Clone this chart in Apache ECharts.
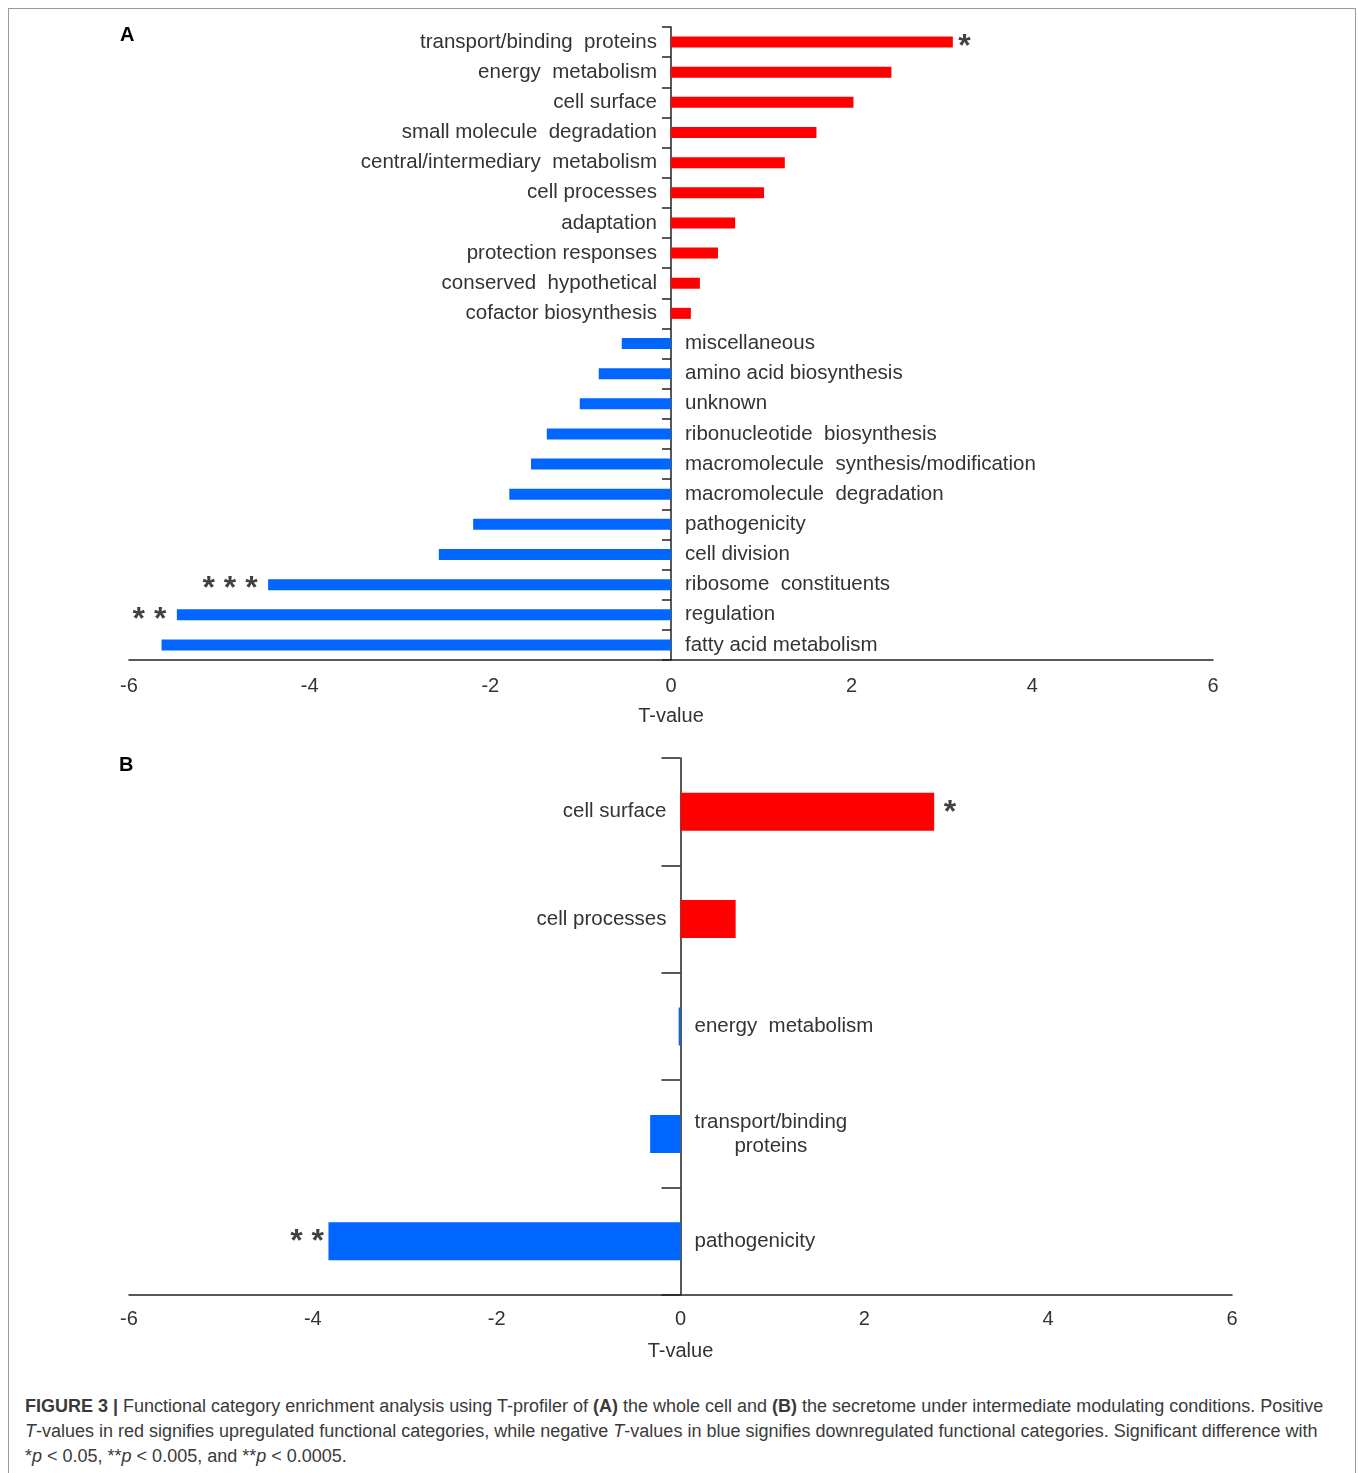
<!DOCTYPE html>
<html>
<head>
<meta charset="utf-8">
<script src="https://cdn.jsdelivr.net/npm/echarts@6/dist/echarts.min.js"></script>
<style>
  body { margin: 0; background: #fff; }
  #frame { position: absolute; left: 8px; top: 8px; width: 1348px; height: 1472px; border: 1px solid #9a9a9a; box-sizing: border-box; }
  #main { position: absolute; left: 0; top: 0; width: 1358px; height: 1390px; }
  #caption { position: absolute; left: 25px; top: 1394px; font: 18px 'Liberation Sans', Arial, sans-serif; line-height: 25px; color: #3a3a3a; white-space: nowrap; }
</style>
</head>
<body>
<div id="frame"></div>
<div id="main"></div>
<div id="caption"><b>FIGURE 3 |</b> Functional category enrichment analysis using T-profiler of <b>(A)</b> the whole cell and <b>(B)</b> the secretome under intermediate modulating conditions. Positive<br><i>T</i>-values in red signifies upregulated functional categories, while negative <i>T</i>-values in blue signifies downregulated functional categories. Significant difference with<br>*<i>p</i> &lt; 0.05, **<i>p</i> &lt; 0.005, and **<i>p</i> &lt; 0.0005.</div>
<script>
// panel A: whole cell (top to bottom)
const catsA = ['transport/binding  proteins', 'energy  metabolism', 'cell surface', 'small molecule  degradation',
  'central/intermediary  metabolism', 'cell processes', 'adaptation', 'protection responses',
  'conserved  hypothetical', 'cofactor biosynthesis', 'miscellaneous', 'amino acid biosynthesis',
  'unknown', 'ribonucleotide  biosynthesis', 'macromolecule  synthesis/modification',
  'macromolecule  degradation', 'pathogenicity', 'cell division', 'ribosome  constituents',
  'regulation', 'fatty acid metabolism'];
const valsA = [3.12, 2.44, 2.02, 1.61, 1.26, 1.03, 0.71, 0.52, 0.32, 0.22,
  -0.545, -0.80, -1.01, -1.375, -1.55, -1.79, -2.19, -2.57, -4.46, -5.47, -5.64];
const starsA = ['*', '', '', '', '', '', '', '', '', '', '', '', '', '', '', '', '', '', '* * *', '* *', ''];

// panel B: secretome
const catsB = ['cell surface', 'cell processes', 'energy  metabolism', 'transport/binding\nproteins', 'pathogenicity'];
const valsB = [2.76, 0.60, -0.02, -0.33, -3.83];
const starsB = ['*', '', '', '', '* *'];

const xTicks = [-6, 6, 2]; // min, max, interval

const RED = '#ff0000', BLUE = '#0066ff', INK = '#222', TXT = '#333';
const FONT = "'Liberation Sans', Arial, sans-serif";

function barData(cats, vals) {
  return vals.map((v, i) => ({
    value: v,
    itemStyle: { color: v >= 0 ? RED : BLUE },
    label: { position: v >= 0 ? 'left' : 'right' }
  }));
}

function starData(cats, vals, stars) {
  const out = [];
  stars.forEach((s, i) => {
    if (s) out.push({ value: [vals[i], cats[i]], label: { formatter: s, position: vals[i] >= 0 ? 'right' : 'left' } });
  });
  return out;
}

function xAxisFor(gi) {
  return {
    type: 'value', gridIndex: gi, min: xTicks[0], max: xTicks[1], interval: xTicks[2],
    axisLine: { show: true, onZero: false, lineStyle: { color: INK, width: 1.5 } },
    axisTick: { show: false },
    splitLine: { show: false },
    axisLabel: { fontSize: 20, color: TXT, fontFamily: FONT, margin: gi === 0 ? 16 : 14 },
    name: 'T-value', nameLocation: 'middle', nameGap: 46,
    nameTextStyle: { fontSize: 20, color: TXT, fontFamily: FONT }
  };
}

function yAxisFor(gi, cats, tickLen) {
  return {
    type: 'category', gridIndex: gi, data: cats, inverse: true,
    axisLine: { show: true, onZero: true, lineStyle: { color: INK, width: 1.5 } },
    axisTick: { show: true, inside: false, length: tickLen, lineStyle: { color: INK, width: 1.5 } },
    axisLabel: { show: false },
    splitLine: { show: false }
  };
}

const catLabel = {
  show: true, distance: 14,
  formatter: p => p.name.split('\n').map(s => '{c|' + s + '}').join('\n'),
  rich: { c: { align: 'center', fontSize: 20.5, lineHeight: 24, color: TXT, fontFamily: FONT } }
};

function starSeries(gi, data, distL, distR, dy) {
  return {
    type: 'scatter', xAxisIndex: gi, yAxisIndex: gi, symbol: 'circle', symbolSize: 1,
    itemStyle: { color: 'rgba(0,0,0,0)' },
    label: { show: true, fontSize: 32, fontWeight: 'bold', color: '#111', fontFamily: FONT, offset: [0, dy] },
    data: data.map(d => {
      d.label.distance = d.label.position === 'left' ? distL : distR;
      return d;
    }),
    silent: true
  };
}

const chart = echarts.init(document.getElementById('main'));
chart.setOption({
  animation: false,
  textStyle: { fontFamily: FONT },
  graphic: [
    { type: 'text', left: 120, top: 25, style: { text: 'A', font: "bold 20px 'Liberation Sans', Arial", fill: '#000' } },
    { type: 'text', left: 119, top: 755, style: { text: 'B', font: "bold 20px 'Liberation Sans', Arial", fill: '#000' } }
  ],
  grid: [
    { left: 129, top: 27, width: 1084, height: 633 },
    { left: 129, top: 758, width: 1103, height: 537 }
  ],
  xAxis: [xAxisFor(0), xAxisFor(1)],
  yAxis: [yAxisFor(0, catsA, 9), yAxisFor(1, catsB, 19)],
  series: [
    { type: 'bar', xAxisIndex: 0, yAxisIndex: 0, barWidth: 11, label: catLabel, data: barData(catsA, valsA) },
    { type: 'bar', xAxisIndex: 1, yAxisIndex: 1, barWidth: 38, label: catLabel, data: barData(catsB, valsB) },
    starSeries(0, starData(catsA, valsA, starsA), 10, 5, 5),
    starSeries(1, starData(catsB, valsB, starsB), 4, 9, 1)
  ]
});
</script>
</body>
</html>
